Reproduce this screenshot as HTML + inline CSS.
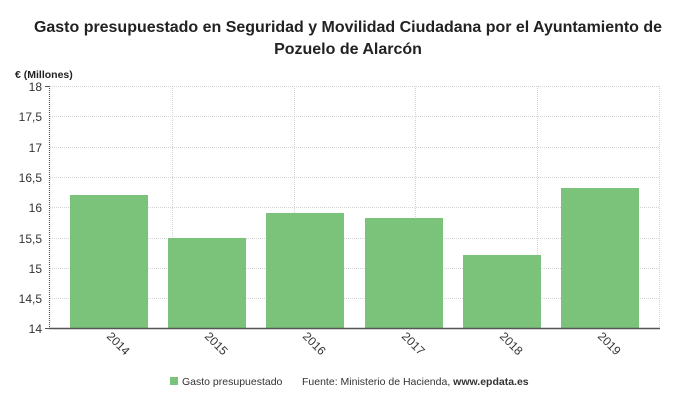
<!DOCTYPE html>
<html><head><meta charset="utf-8"><style>
body{margin:0;background:#fff;width:696px;height:408px;overflow:hidden;font-family:"Liberation Sans",sans-serif;}
</style></head><body>
<svg width="696" height="408" xmlns="http://www.w3.org/2000/svg" font-family="Liberation Sans, sans-serif">
<text x="348" y="32" text-anchor="middle" font-size="16" font-weight="bold" fill="#222" textLength="628" lengthAdjust="spacingAndGlyphs">Gasto presupuestado en Seguridad y Movilidad Ciudadana por el Ayuntamiento de</text>
<text x="348" y="54" text-anchor="middle" font-size="16" font-weight="bold" fill="#222">Pozuelo de Alarcón</text>
<text x="15" y="78" font-size="10.5" font-weight="bold" fill="#222">€ (Millones)</text>
<g stroke="#d4d4d4" stroke-dasharray="1,1" stroke-width="1">
<line x1="50" x2="660" y1="86.5" y2="86.5"/><line x1="50" x2="660" y1="116.5" y2="116.5"/>
<line x1="50" x2="660" y1="147.5" y2="147.5"/><line x1="50" x2="660" y1="177.5" y2="177.5"/>
<line x1="50" x2="660" y1="207.5" y2="207.5"/><line x1="50" x2="660" y1="238.5" y2="238.5"/>
<line x1="50" x2="660" y1="268.5" y2="268.5"/><line x1="50" x2="660" y1="298.5" y2="298.5"/>
<line x1="172.5" x2="172.5" y1="86" y2="328"/><line x1="294.5" x2="294.5" y1="86" y2="328"/>
<line x1="415.5" x2="415.5" y1="86" y2="328"/><line x1="537.5" x2="537.5" y1="86" y2="328"/>
<line x1="659.5" x2="659.5" y1="86" y2="328"/>
</g>
<g fill="#7bc27a">
<rect x="70" y="195" width="78" height="133"/>
<rect x="168" y="238" width="78" height="90"/>
<rect x="266" y="213" width="78" height="115"/>
<rect x="365" y="218" width="78" height="110"/>
<rect x="463" y="255" width="78" height="73"/>
<rect x="561" y="188" width="78" height="140"/>
</g>
<line x1="49.5" x2="49.5" y1="86" y2="329" stroke="#555" stroke-width="1.2" stroke-dasharray="1,1"/>
<line x1="49" x2="660" y1="328.5" y2="328.5" stroke="#555" stroke-width="1.5"/>
<g font-size="12" fill="#333" text-anchor="end">
<text x="42" y="91">18</text><text x="42" y="121">17,5</text><text x="42" y="152">17</text>
<text x="42" y="182">16,5</text><text x="42" y="212">16</text><text x="42" y="243">15,5</text>
<text x="42" y="273">15</text><text x="42" y="303">14,5</text><text x="42" y="333">14</text>
</g>
<g stroke="#555"><line x1="45" x2="49" y1="86.5" y2="86.5"/><line x1="45" x2="49" y1="328.5" y2="328.5"/></g>
<g font-size="12" fill="#333">
<text transform="translate(106,337) rotate(45)">2014</text>
<text transform="translate(204,337) rotate(45)">2015</text>
<text transform="translate(302,337) rotate(45)">2016</text>
<text transform="translate(401,337) rotate(45)">2017</text>
<text transform="translate(499,337) rotate(45)">2018</text>
<text transform="translate(597,337) rotate(45)">2019</text>
</g>
<rect x="170" y="377" width="8" height="8" fill="#7bc27a"/>
<text x="182" y="385" font-size="10.5" fill="#333">Gasto presupuestado</text>
<text x="302" y="385" font-size="10.5" fill="#333">Fuente: Ministerio de Hacienda, <tspan font-weight="bold">www.epdata.es</tspan></text>
</svg>
</body></html>
